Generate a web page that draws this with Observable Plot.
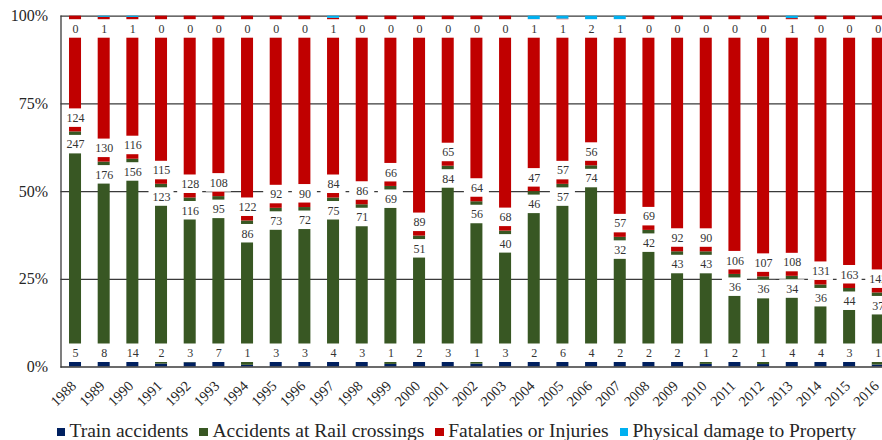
<!DOCTYPE html>
<html><head><meta charset="utf-8">
<script src="https://cdn.jsdelivr.net/npm/d3@7"></script>
<script src="https://cdn.jsdelivr.net/npm/@observablehq/plot@0.6"></script>
<style>
body{margin:0;background:#fff;overflow:hidden;width:882px;font-family:"Liberation Serif","Times New Roman",serif;}
#legend{margin-top:0px;padding-left:56.5px;font-size:19.5px;line-height:19px;height:20px;color:#262626;white-space:nowrap;}
#legend .sw{display:inline-block;width:8.5px;height:8.5px;margin-right:4.5px;vertical-align:1px;}
#legend .it{margin-right:11px;}
</style></head><body>
<div id="chart"></div>
<div id="legend"></div>
<script>
const years = ["1988","1989","1990","1991","1992","1993","1994","1995","1996","1997","1998","1999","2000","2001","2002","2003","2004","2005","2006","2007","2008","2009","2010","2011","2012","2013","2014","2015","2016"];
const train      = [5,8,14,2,3,7,1,3,3,4,3,1,2,3,1,3,2,6,4,2,2,2,1,2,1,4,4,3,1];
const crossings  = [247,176,156,123,116,95,86,73,72,75,71,69,51,84,56,40,46,57,74,32,42,43,43,36,36,34,36,44,37];
const fatalities = [124,130,116,115,128,108,122,92,90,84,86,66,89,65,64,68,47,57,56,57,69,92,90,106,107,108,131,163,142];
const property   = [0,1,1,0,0,0,0,0,0,1,0,0,0,0,0,0,1,1,2,1,0,0,0,0,0,1,0,0,0];
const seriesNames  = ["Train accidents","Accidents at Rail crossings","Fatalaties or Injuries","Physical damage to Property"];
const seriesColors = ["#002060","#385723","#C00000","#00B0F0"];
const labelAt      = ["base","end","base","end"];
const yTicks = [0, 0.25, 0.5, 0.75, 1];

const seriesValues = [train, crossings, fatalities, property];
const rows = [];
years.forEach((yr, i) => {
  const total = d3.sum(seriesValues, s => s[i]);
  let acc = 0;
  seriesValues.forEach((s, k) => {
    const v = s[i];
    rows.push({year: yr, series: seriesNames[k], value: v, y1: acc / total, y2: (acc + v) / total, at: labelAt[k]});
    acc += v;
  });
});
const baseRows = rows.filter(d => d.at === "base").map(d => ({...d, a: d.y1}));
const endRows  = rows.filter(d => d.at === "end").map(d => ({...d, a: d.y2}));

const font = '"Liberation Serif","Times New Roman",serif';
const fmt = d3.format(".0%");
const chart = Plot.plot({
  width: 882, height: 421,
  marginLeft: 60.5, marginRight: 0, marginTop: 15.7, marginBottom: 54.5,
  style: {fontFamily: font, background: "#fff", overflow: "hidden"},
  x: {type: "band", domain: years, range: [60.7, 892.1], paddingInner: 0.581, paddingOuter: 0.29, round: false, axis: null},
  y: {domain: [0, 1], axis: null},
  color: {domain: seriesNames, range: seriesColors},
  marks: [
    Plot.ruleY(yTicks.filter(t => t > 0), {stroke: "#3a3a3a", strokeWidth: 1.3}),
    Plot.barY(rows, {x: "year", y1: "y1", y2: "y2", fill: "series"}),
    // white label boxes
    Plot.barY(baseRows, {x: "year", y1: "a", y2: "a", fill: "white", insetTop: -23, insetBottom: 4.5, insetLeft: -6.5, insetRight: -6.5}),
    Plot.barY(endRows, {x: "year", y1: "a", y2: "a", fill: "white", insetTop: 3.5, insetBottom: -22, insetLeft: -6.5, insetRight: -6.5}),
    Plot.text(baseRows, {x: "year", y: "a", text: d => String(d.value), dy: -13.75, fontSize: 12, fill: "#333"}),
    Plot.text(endRows, {x: "year", y: "a", text: d => String(d.value), dy: 12.75, fontSize: 12, fill: "#333"}),
    Plot.ruleY([0], {stroke: "#3a3a3a", strokeWidth: 1.6}),
    Plot.frame({anchor: "left", stroke: "#3a3a3a", strokeWidth: 1.3}),
    Plot.text(yTicks, {y: d => d, text: d => fmt(d), frameAnchor: "left", lineAnchor: "middle", textAnchor: "end", dx: -13, fontSize: 16, fill: "#262626"}),
    Plot.text(years, {x: d => d, frameAnchor: "bottom", lineAnchor: "middle", rotate: -45, textAnchor: "end", dx: -1.8, dy: 16.5, fontSize: 14.5, fill: "#262626"})
  ]
});
document.getElementById("chart").appendChild(chart);

const legend = document.getElementById("legend");
seriesNames.forEach((n, k) => {
  const it = document.createElement("span");
  it.className = "it";
  it.innerHTML = `<span class="sw" style="background:${seriesColors[k]}"></span>${n}`;
  legend.appendChild(it);
});
</script>
</body></html>
